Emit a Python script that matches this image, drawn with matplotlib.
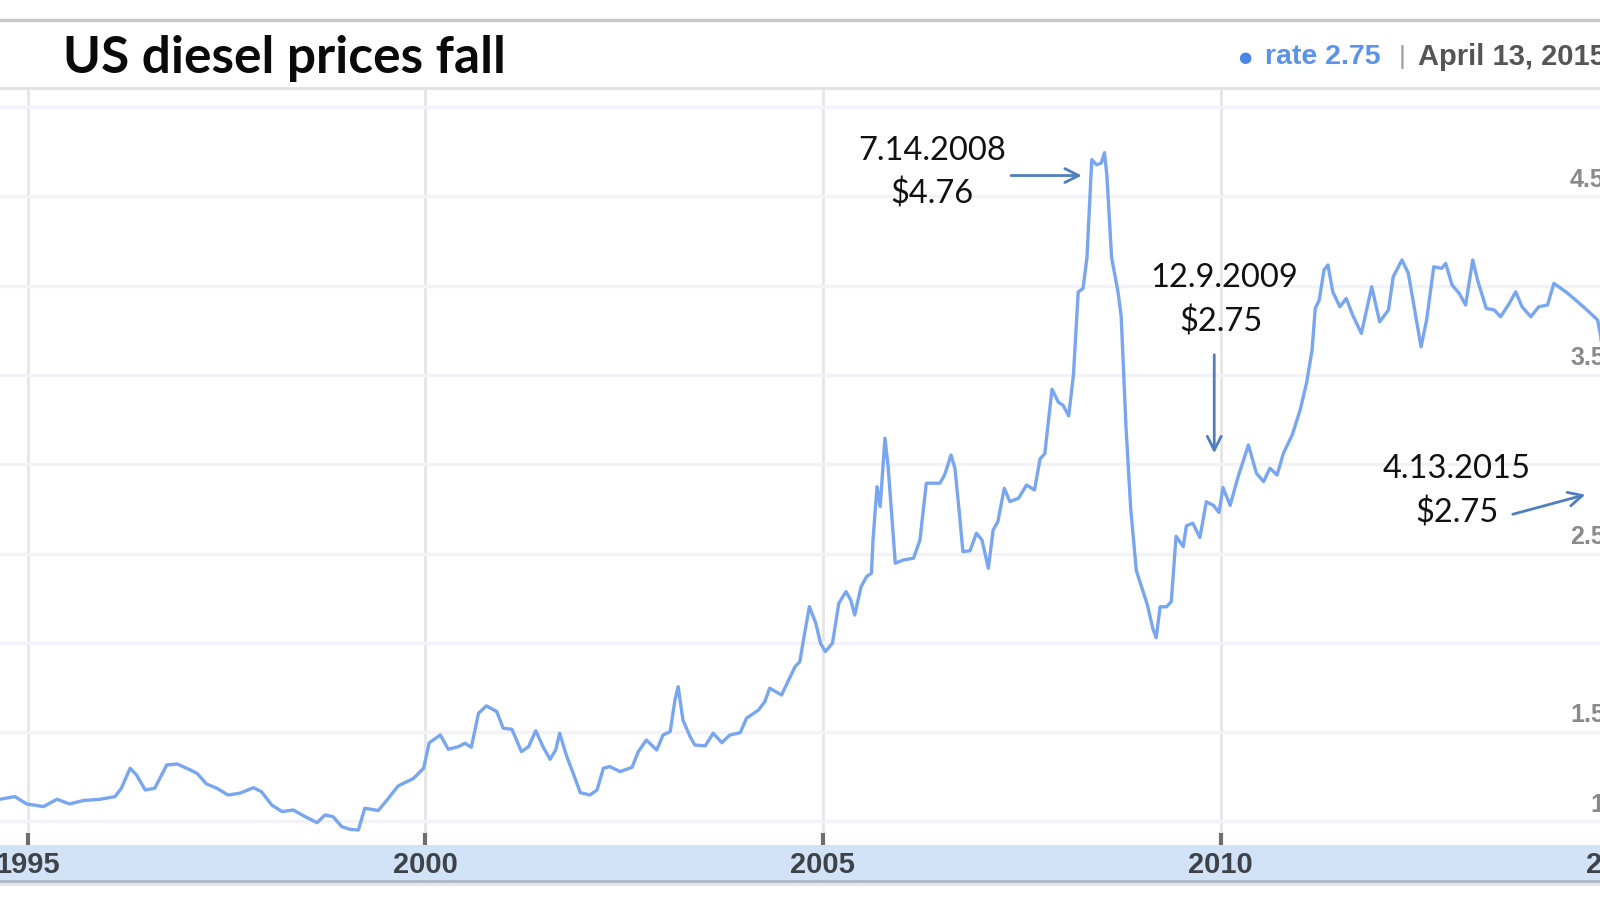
import numpy as np
import matplotlib.pyplot as plt
from matplotlib.patches import Rectangle
from matplotlib.lines import Line2D

# US diesel retail price, $/gallon
yrs = [1994.65, 1994.84, 1994.99, 1995.20, 1995.37, 1995.53, 1995.70, 1995.91,
       1996.10, 1996.18, 1996.29, 1996.37, 1996.48, 1996.60, 1996.75, 1996.88,
       1997.00, 1997.13, 1997.25, 1997.38, 1997.52, 1997.67, 1997.84, 1997.94,
       1998.07, 1998.20, 1998.34, 1998.49, 1998.64, 1998.74, 1998.84, 1998.95,
       1999.05, 1999.16, 1999.24, 1999.41, 1999.52, 1999.66, 1999.85, 1999.98,
       2000.05, 2000.19, 2000.29, 2000.42, 2000.50, 2000.58, 2000.67, 2000.77,
       2000.90, 2000.98, 2001.09, 2001.21, 2001.30, 2001.39, 2001.48, 2001.57,
       2001.64, 2001.69, 2001.78, 2001.86, 2001.95, 2002.07, 2002.16, 2002.24,
       2002.32, 2002.45, 2002.60, 2002.68, 2002.78, 2002.91, 2002.99, 2003.08,
       2003.14, 2003.18, 2003.24, 2003.33, 2003.39, 2003.52, 2003.62, 2003.73,
       2003.83, 2003.96, 2004.04, 2004.19, 2004.27, 2004.33, 2004.48, 2004.56,
       2004.65, 2004.71, 2004.77, 2004.83, 2004.91, 2004.97, 2005.03, 2005.12,
       2005.20, 2005.29, 2005.35, 2005.40, 2005.48, 2005.55, 2005.61, 2005.63,
       2005.68, 2005.72, 2005.78, 2005.82, 2005.91, 2006.01, 2006.14, 2006.22,
       2006.30, 2006.47, 2006.53, 2006.61, 2006.66, 2006.72, 2006.76, 2006.85,
       2006.93, 2007.00, 2007.08, 2007.14, 2007.20, 2007.28, 2007.35, 2007.46,
       2007.56, 2007.66, 2007.73, 2007.79, 2007.88, 2007.96, 2008.02, 2008.09,
       2008.15, 2008.21, 2008.27, 2008.32, 2008.38, 2008.44, 2008.50, 2008.54,
       2008.57, 2008.63, 2008.71, 2008.75, 2008.81, 2008.87, 2008.94, 2009.01,
       2009.08, 2009.15, 2009.19, 2009.24, 2009.32, 2009.38, 2009.44, 2009.53,
       2009.57, 2009.65, 2009.74, 2009.82, 2009.91, 2009.98, 2010.03, 2010.12,
       2010.22, 2010.35, 2010.45, 2010.54, 2010.62, 2010.71, 2010.79, 2010.90,
       2011.00, 2011.08, 2011.15, 2011.19, 2011.24, 2011.30, 2011.35, 2011.41,
       2011.50, 2011.58, 2011.66, 2011.77, 2011.90, 2012.00, 2012.11, 2012.17,
       2012.28, 2012.36, 2012.44, 2012.52, 2012.59, 2012.68, 2012.78, 2012.83,
       2012.91, 2013.00, 2013.08, 2013.17, 2013.23, 2013.34, 2013.44, 2013.52,
       2013.63, 2013.71, 2013.79, 2013.90, 2014.00, 2014.11, 2014.19, 2014.34,
       2014.49, 2014.63, 2014.74, 2014.78, 2014.80]
price = [1.124, 1.139, 1.098, 1.083, 1.124, 1.098, 1.117, 1.124,
         1.139, 1.186, 1.298, 1.260, 1.176, 1.186, 1.316, 1.322,
         1.298, 1.270, 1.210, 1.186, 1.148, 1.158, 1.189, 1.167,
         1.092, 1.055, 1.064, 1.027, 0.993, 1.036, 1.027, 0.971,
         0.956, 0.952, 1.074, 1.061, 1.120, 1.199, 1.240, 1.298,
         1.440, 1.484, 1.404, 1.419, 1.438, 1.415, 1.606, 1.647,
         1.615, 1.522, 1.516, 1.391, 1.419, 1.508, 1.419, 1.348,
         1.400, 1.494, 1.363, 1.270, 1.161, 1.148, 1.176, 1.298,
         1.307, 1.279, 1.303, 1.391, 1.456, 1.400, 1.484, 1.503,
         1.680, 1.755, 1.568, 1.475, 1.428, 1.423, 1.494, 1.441,
         1.484, 1.497, 1.578, 1.624, 1.671, 1.746, 1.708, 1.783,
         1.867, 1.895, 2.054, 2.203, 2.110, 1.998, 1.951, 1.998,
         2.222, 2.287, 2.240, 2.156, 2.315, 2.371, 2.390, 2.576,
         2.875, 2.763, 3.146, 2.987, 2.446, 2.464, 2.474, 2.576,
         2.894, 2.894, 2.940, 3.052, 2.978, 2.707, 2.511, 2.516,
         2.614, 2.576, 2.418, 2.632, 2.679, 2.866, 2.791, 2.810,
         2.884, 2.856, 3.030, 3.060, 3.420, 3.348, 3.330, 3.271,
         3.502, 3.965, 3.984, 4.157, 4.706, 4.677, 4.687, 4.745,
         4.619, 4.157, 3.965, 3.830, 3.213, 2.751, 2.405, 2.308,
         2.212, 2.077, 2.029, 2.202, 2.202, 2.231, 2.597, 2.539,
         2.655, 2.670, 2.590, 2.790, 2.770, 2.730, 2.870, 2.770,
         2.930, 3.108, 2.950, 2.903, 2.978, 2.940, 3.062, 3.164,
         3.304, 3.454, 3.640, 3.873, 3.920, 4.088, 4.116, 3.966,
         3.882, 3.929, 3.836, 3.733, 3.994, 3.798, 3.864, 4.050,
         4.144, 4.070, 3.864, 3.658, 3.808, 4.106, 4.097, 4.125,
         4.004, 3.957, 3.892, 4.144, 4.032, 3.873, 3.864, 3.826,
         3.901, 3.966, 3.882, 3.826, 3.882, 3.892, 4.013, 3.966,
         3.910, 3.854, 3.808, 3.714, 3.584]

grid_levels = np.arange(1.0, 5.01, 0.5)
ylab_vals = [4.5, 3.5, 2.5, 1.5, 1.0]
ylab_txt = ['4.5', '3.5', '2.5', '1.5', '1']
year_ticks = [1995, 2000, 2005, 2010, 2015]

LINE = '#78a6f0'
ARROW = '#4f7fbf'

fig = plt.figure(figsize=(16, 9), dpi=100)
fig.patch.set_facecolor('white')

ax = fig.add_axes([0, 55 / 900, 1, 755 / 900])
ax.set_xlim(1994.654, 2014.77)
ax.set_ylim(0.868, 5.096)
for s in ax.spines.values():
    s.set_visible(False)
ax.set_axisbelow(True)

ax.set_yticks(grid_levels)
ax.tick_params(axis='y', length=0, labelleft=False)
ax.grid(axis='y', color='#f3f3f7', lw=2.5)

ax.set_xticks(year_ticks[:-1])
ax.tick_params(axis='x', direction='in', length=9, width=3, color='#6e6e6e', labelbottom=False)
ax.grid(axis='x', color='#e6e6e6', lw=2)

ax.plot(yrs, price, color=LINE, lw=2.4, solid_joinstyle='round', zorder=3)

# year labels inside the blue band
for yr in year_ticks:
    ax.text(yr, -0.026, str(yr), transform=ax.get_xaxis_transform(), ha='center', va='center',
            fontsize=21, fontweight='bold', family='Liberation Sans', color='#3e434a', clip_on=False)

# right-hand value labels, sitting above their gridlines
for v, t in zip(ylab_vals, ylab_txt):
    ax.annotate(t, xy=(1.003, v), xycoords=('axes fraction', 'data'), xytext=(0, 12),
                textcoords='offset points', ha='right', va='center', fontsize=18,
                fontweight='bold', family='Liberation Sans', color='#8a8a8a', annotation_clip=False)

# callouts
tkw = dict(ha='center', va='center', fontsize=23.5, family='Lato', color='#111111', zorder=5)
ax.text(2006.37, 4.754, '7.14.2008', **tkw)
ax.text(2006.37, 4.513, '$4.76', **tkw)
ax.annotate('', xy=(2008.29, 4.617), xytext=(2007.33, 4.617),
            arrowprops=dict(arrowstyle='->', color=ARROW, lw=2, mutation_scale=25))
ax.text(2010.05, 4.043, '12.9.2009', **tkw)
ax.text(2010.0, 3.797, '$2.75', **tkw)
ax.annotate('', xy=(2009.92, 3.046), xytext=(2009.92, 3.629),
            arrowprops=dict(arrowstyle='->', color=ARROW, lw=2, mutation_scale=25))
ax.text(2012.97, 2.974, '4.13.2015', **tkw)
ax.text(2012.97, 2.727, '$2.75', **tkw)
ax.annotate('', xy=(2014.62, 2.834), xytext=(2013.64, 2.716),
            arrowprops=dict(arrowstyle='->', color=ARROW, lw=2, mutation_scale=25))

# header bar and bottom band
fig.add_artist(Rectangle((0, 20 / 900), 1, 35 / 900, transform=fig.transFigure,
                         facecolor='#d3e3f7', edgecolor='none', zorder=-1))
fig.add_artist(Line2D([0, 1], [19 / 900, 19 / 900], transform=fig.transFigure, color='#aab7c8', lw=2, zorder=-1))
fig.add_artist(Line2D([0, 1], [16 / 900, 16 / 900], transform=fig.transFigure, color='#e6e6e6', lw=2, zorder=-1))
fig.add_artist(Line2D([0, 1], [880 / 900, 880 / 900], transform=fig.transFigure, color='#c8c8c8', lw=2.5))
fig.add_artist(Line2D([0, 1], [812 / 900, 812 / 900], transform=fig.transFigure, color='#e2e2e2', lw=2))

fig.text(63 / 1600, 1 - 58 / 900, 'US diesel prices fall', ha='left', va='center',
         fontsize=37, fontweight='bold', family='Lato', color='#0a0a0a')

hy = 1 - 57 / 900
fig.text(1245 / 1600, hy, '\u25cf', ha='center', va='center', fontsize=11, color='#4a86e8')
fig.text(1265 / 1600, hy, 'rate 2.75', ha='left', va='center', fontsize=20.5,
         fontweight='bold', family='Liberation Sans', color='#5b93ea')
fig.text(1402 / 1600, hy, '|', ha='center', va='center', fontsize=19, family='Liberation Sans', color='#9a9a9a')
fig.text(1418 / 1600, hy, 'April 13, 2015', ha='left', va='center', fontsize=21,
         fontweight='bold', family='Liberation Sans', color='#555555')

fig.savefig('out.png', dpi=100)
